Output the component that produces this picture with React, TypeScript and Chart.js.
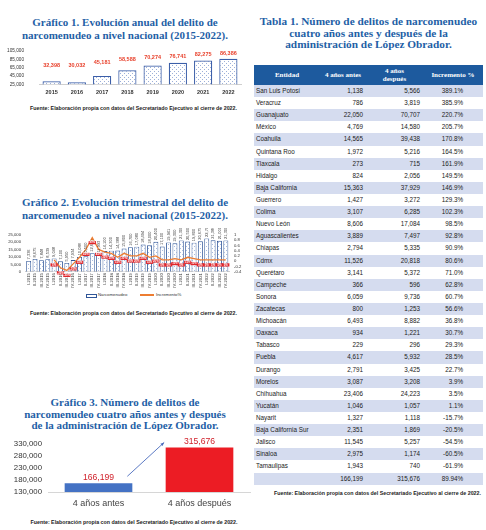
import React, { useEffect, useRef } from "react";
import { Chart, registerables } from "chart.js";

Chart.register(...registerables);

// ---------- DATA ----------
const years = ["2015", "2016", "2017", "2018", "2019", "2020", "2021", "2022"];
const annualCases = [32398, 30032, 45181, 58588, 70274, 76741, 82275, 86386];

const quarterLabels = [
  "I-2015", "II-2015", "III-2015", "IV-2015",
  "I-2016", "II-2016", "III-2016", "IV-2016",
  "I-2017", "II-2017", "III-2017", "IV-2017",
  "I-2018", "II-2018", "III-2018", "IV-2018",
  "I-2019", "II-2019", "III-2019", "IV-2019",
  "I-2020", "II-2020", "III-2020", "IV-2020",
  "I-2021", "II-2021", "III-2021", "IV-2021",
  "I-2022", "II-2022", "III-2022", "IV-2022",
];
const quarterCases = [
  7336, 8675, 7848, 8539,
  9048, 7100, 5950, 7934,
  10088, 10500, 12600, 11993,
  14100, 14300, 14388, 15800,
  16700, 17080, 18494, 18000,
  20400, 17100, 19941, 19300,
  21300, 20500, 19800, 20675,
  22700, 21386, 21000, 21300,
];
const quarterIncrement: (number | null)[] = [
  null, null, null, null,
  0.05, -0.25, -0.35, -0.1,
  0.15, 0.45, 0.9, 0.45,
  0.35, 0.3, 0.15, 0.3,
  0.2, 0.2, 0.3, 0.15,
  0.2, 0.05, 0.05, 0.1,
  0.05, 0.15, 0.1, 0.05,
  0.05, 0.05, 0.05, 0.05,
];

const periodLabels = ["4 años antes", "4 años después"];
const periodCases = [166199, 315676];

const tableStates = [
  "San Luis Potosí", "Veracruz", "Guanajuato", "México", "Coahuila", "Quintana Roo",
  "Tlaxcala", "Hidalgo", "Baja California", "Guerrero", "Colima", "Nuevo León",
  "Aguascalientes", "Chiapas", "Cdmx", "Querétaro", "Campeche", "Sonora", "Zacatecas",
  "Michoacán", "Oaxaca", "Tabasco", "Puebla", "Durango", "Morelos", "Chihuahua",
  "Yucatán", "Nayarit", "Baja California Sur", "Jalisco", "Sinaloa", "Tamaulipas",
];
const tableBefore = [
  1138, 786, 22050, 4769, 14565, 1972, 273, 824, 15363, 1427, 3107, 8606,
  3889, 2794, 11526, 3141, 366, 6059, 800, 6493, 934, 229, 4617, 2791, 3087, 23406,
  1046, 1327, 2351, 11545, 2975, 1943,
];
const tableAfter = [
  5566, 3819, 70707, 14580, 39438, 5216, 715, 2056, 37929, 3272, 6285, 17084,
  7497, 5335, 20818, 5372, 596, 9736, 1253, 8882, 1221, 296, 5932, 3425, 3208, 24223,
  1057, 1118, 1869, 5257, 1174, 740,
];
const tableIncrement = [
  "389.1%", "385.9%", "220.7%", "205.7%", "170.8%", "164.5%", "161.9%", "149.5%",
  "146.9%", "129.3%", "102.3%", "98.5%", "92.8%", "90.9%", "80.6%", "71.0%", "62.8%",
  "60.7%", "56.6%", "36.8%", "30.7%", "29.3%", "28.5%", "22.7%", "3.9%", "3.5%",
  "1.1%", "-15.7%", "-20.5%", "-54.5%", "-60.5%", "-61.9%",
];
const tableTotals = ["", "166,199", "315,676", "89.94%"];
const tableHeaders = ["Entidad", "4 años antes", "4 años después", "Incremento %"];

const SOURCE = "Fuente: Elaboración propia con datos del Secretariado Ejecutivo al cierre de 2022.";

// ---------- HELPERS ----------
const fmt = (v: number) => v.toLocaleString("en-US");
const SANS = '"Liberation Sans", Arial, sans-serif';
const SERIF = '"Liberation Serif", "Times New Roman", serif';
const TITLE_BLUE = "#1f5fa6";

function makePattern(ctx: CanvasRenderingContext2D, bg: string, dot: string) {
  const c = document.createElement("canvas");
  c.width = 4;
  c.height = 4;
  const g = c.getContext("2d")!;
  g.fillStyle = bg;
  g.fillRect(0, 0, 4, 4);
  g.fillStyle = dot;
  g.fillRect(0, 0, 1, 1);
  g.fillRect(2, 2, 1, 1);
  return ctx.createPattern(c, "repeat")!;
}

const fixY = (w: number) => (s: any) => {
  s.width = w;
  s.paddingTop = 0;
  s.paddingBottom = 0;
};

// ---------- CHART 1 ----------
function AnnualChart() {
  const ref = useRef<HTMLCanvasElement>(null);
  useEffect(() => {
    const canvas = ref.current!;
    const ctx = canvas.getContext("2d")!;
    const labelPlugin = {
      id: "annualLabels",
      afterDatasetsDraw(chart: any) {
        const { ctx: c, chartArea } = chart;
        const meta = chart.getDatasetMeta(0);
        c.save();
        c.font = `bold 5.5px ${SANS}`;
        c.fillStyle = "#e8412c";
        c.textAlign = "center";
        c.textBaseline = "middle";
        meta.data.forEach((el: any, i: number) => {
          const v = chart.data.datasets[0].data[i] as number;
          const top = el.y;
          const y = top - 5 - 0.5 * Math.max(0, top - (chartArea.top + 8.3));
          c.fillText(fmt(v), el.x, y);
        });
        c.restore();
      },
    };
    const chart = new Chart(canvas, {
      type: "bar",
      data: {
        labels: years,
        datasets: [
          {
            data: annualCases,
            backgroundColor: makePattern(ctx, "#ffffff", "#9db0d8"),
            borderColor: "#3b5ea8",
            borderWidth: 1.2,
            barPercentage: 0.72,
            categoryPercentage: 1,
          },
        ],
      },
      options: {
        animation: false,
        responsive: false,
        maintainAspectRatio: false,
        layout: { autoPadding: false, padding: { top: 6, right: 7, left: 0, bottom: 0 } },
        plugins: { legend: { display: false }, tooltip: { enabled: false } },
        scales: {
          x: {
            grid: { display: false, drawTicks: false },
            border: { display: true, color: "#cfcfcf" },
            ticks: { font: { size: 5.5, weight: "bold", family: SANS }, color: "#333", padding: 5 },
            afterFit: (s: any) => { s.height = 15.7; },
          },
          y: {
            min: 25000,
            max: 105000,
            grid: { display: false, drawTicks: false },
            border: { display: false },
            ticks: {
              autoSkip: false,
              stepSize: 20000,
              font: { size: 4.7, family: SANS },
              color: "#333",
              padding: 15,
              callback: (v: any) => fmt(Number(v)),
            },
            afterFit: fixY(39),
          },
        },
      } as any,
      plugins: [labelPlugin],
    });
    return () => chart.destroy();
  }, []);
  return <canvas ref={ref} width={248} height={55} style={{ position: "absolute", left: 0, top: 45, width: 248, height: 55 }} />;
}

// ---------- CHART 2 ----------
function QuarterChart() {
  const ref = useRef<HTMLCanvasElement>(null);
  useEffect(() => {
    const canvas = ref.current!;
    const ctx = canvas.getContext("2d")!;
    const labelPlugin = {
      id: "quarterLabels",
      afterDatasetsDraw(chart: any) {
        const c = chart.ctx;
        const bars = chart.getDatasetMeta(0);
        c.save();
        c.font = `4px ${SANS}`;
        c.fillStyle = "#404040";
        c.textAlign = "left";
        c.textBaseline = "middle";
        bars.data.forEach((el: any, i: number) => {
          const v = chart.data.datasets[0].data[i] as number;
          c.save();
          c.translate(el.x, el.y - 1.5);
          c.rotate(-Math.PI / 2);
          c.fillText(fmt(v), 0, 0);
          c.restore();
        });
        const line = chart.getDatasetMeta(1);
        c.font = `bold 2.8px ${SANS}`;
        c.textAlign = "center";
        line.data.forEach((el: any, i: number) => {
          const v = chart.data.datasets[1].data[i];
          if (v === null || v === undefined) return;
          const y = el.y + 5;
          c.fillStyle = "#e0262b";
          c.fillRect(el.x - 3.6, y - 1.6, 7.2, 3.2);
          c.fillStyle = "#ffffff";
          c.fillText(Math.round((v as number) * 100) + "%", el.x, y + 0.1);
        });
        c.restore();
      },
    };
    const chart = new Chart(canvas, {
      type: "bar",
      data: {
        labels: quarterLabels,
        datasets: [
          {
            type: "bar",
            label: "Narcomenudeo",
            data: quarterCases,
            yAxisID: "y",
            backgroundColor: makePattern(ctx, "#ffffff", "#a9bbdf"),
            borderColor: "#2f5597",
            borderWidth: 0.9,
            barPercentage: 0.78,
            categoryPercentage: 1,
            order: 2,
          },
          {
            type: "line",
            label: "Incremento%",
            data: quarterIncrement,
            yAxisID: "y1",
            borderColor: "#ed7d31",
            borderWidth: 1.3,
            pointRadius: 0,
            tension: 0,
            order: 1,
          },
        ],
      },
      options: {
        animation: false,
        responsive: false,
        maintainAspectRatio: false,
        layout: { autoPadding: false, padding: { top: 7, right: 0, left: 0, bottom: 0 } },
        plugins: { legend: { display: false }, tooltip: { enabled: false } },
        scales: {
          x: {
            grid: { display: false, drawTicks: false },
            border: { display: true, color: "#cfcfcf" },
            ticks: {
              autoSkip: false,
              minRotation: 90,
              maxRotation: 90,
              font: { size: 4.2, family: SANS },
              color: "#333",
              padding: 1.5,
            },
            afterFit: (s: any) => { s.height = 20.3; },
          },
          y: {
            min: 0,
            max: 25000,
            grid: { display: false, drawTicks: false },
            border: { display: false },
            ticks: {
              autoSkip: false,
              stepSize: 5000,
              font: { size: 4.2, family: SANS },
              color: "#333",
              padding: 4.5,
              callback: (v: any) => fmt(Number(v)),
            },
            afterFit: fixY(25.5),
          },
          y1: {
            position: "right",
            min: -0.4,
            max: 1,
            grid: { display: false, drawTicks: false },
            border: { display: false },
            ticks: {
              autoSkip: false,
              stepSize: 0.2,
              font: { size: 4.2, family: SANS },
              color: "#333",
              padding: 5,
              callback: (v: any) => String(Number(Number(v).toFixed(1))),
            },
            afterFit: fixY(19),
          },
        },
      } as any,
      plugins: [labelPlugin],
    });
    return () => chart.destroy();
  }, []);
  return <canvas ref={ref} width={248} height={64} style={{ position: "absolute", left: 0, top: 228, width: 248, height: 64 }} />;
}

// ---------- CHART 3 ----------
function PeriodChart() {
  const ref = useRef<HTMLCanvasElement>(null);
  useEffect(() => {
    const canvas = ref.current!;
    const plugin = {
      id: "periodLabels",
      afterDatasetsDraw(chart: any) {
        const c = chart.ctx;
        const meta = chart.getDatasetMeta(0);
        c.save();
        c.font = `8.6px ${SANS}`;
        c.fillStyle = "#d0202a";
        c.textAlign = "center";
        c.textBaseline = "middle";
        meta.data.forEach((el: any, i: number) => {
          const v = chart.data.datasets[0].data[i] as number;
          c.fillText(fmt(v), el.x, el.y - 6);
        });
        // arrow
        const a = meta.data[0];
        const b = meta.data[1];
        const x0 = a.x + a.width / 2 - 5;
        const y0 = a.y - 7;
        const x1 = b.x - b.width / 2 - 1.5;
        const y1 = b.y - 5;
        c.strokeStyle = "#4a6bbd";
        c.fillStyle = "#4a6bbd";
        c.lineWidth = 0.9;
        c.beginPath();
        c.moveTo(x0, y0);
        c.lineTo(x1, y1);
        c.stroke();
        const ang = Math.atan2(y1 - y0, x1 - x0);
        c.beginPath();
        c.moveTo(x1, y1);
        c.lineTo(x1 - 4 * Math.cos(ang - 0.4), y1 - 4 * Math.sin(ang - 0.4));
        c.lineTo(x1 - 4 * Math.cos(ang + 0.4), y1 - 4 * Math.sin(ang + 0.4));
        c.closePath();
        c.fill();
        c.restore();
      },
    };
    const chart = new Chart(canvas, {
      type: "bar",
      data: {
        labels: periodLabels,
        datasets: [
          {
            data: periodCases,
            backgroundColor: ["#4472c4", "#ec1c24"],
            borderWidth: 0,
            barPercentage: 0.67,
            categoryPercentage: 1,
          },
        ],
      },
      options: {
        animation: false,
        responsive: false,
        maintainAspectRatio: false,
        layout: { autoPadding: false, padding: { top: 8, right: 2, left: 0, bottom: 0 } },
        plugins: { legend: { display: false }, tooltip: { enabled: false } },
        scales: {
          x: {
            grid: { display: false, drawTicks: false },
            border: { display: true, color: "#d6d6d6" },
            ticks: { font: { size: 9, family: SANS }, color: "#444", padding: 6 },
            afterFit: (s: any) => { s.height = 20; },
          },
          y: {
            min: 130000,
            max: 330000,
            grid: { display: false, drawTicks: false },
            border: { display: false },
            ticks: {
              autoSkip: false,
              stepSize: 50000,
              font: { size: 7.8, family: SANS },
              color: "#333",
              padding: 6,
              callback: (v: any) => fmt(Number(v)),
            },
            afterFit: fixY(48),
          },
        },
      } as any,
      plugins: [plugin],
    });
    return () => chart.destroy();
  }, []);
  return <canvas ref={ref} width={252} height={76} style={{ position: "absolute", left: 0, top: 436, width: 252, height: 76 }} />;
}

// ---------- LAYOUT PIECES ----------
function Title({ lines, top, left, width, lh, size = 11 }: { lines: string[]; top: number; left: number; width: number; lh: number; size?: number }) {
  return (
    <div
      style={{
        position: "absolute",
        top,
        left,
        width,
        textAlign: "center",
        fontFamily: SERIF,
        fontWeight: "bold",
        fontSize: size,
        lineHeight: lh + "px",
        color: TITLE_BLUE,
        whiteSpace: "nowrap",
      }}
    >
      {lines.map((l, i) => (
        <div key={i}>{l}</div>
      ))}
    </div>
  );
}

function Source({ top, left, width }: { top: number; left: number; width: number }) {
  return (
    <div
      style={{
        position: "absolute",
        top,
        left,
        width,
        textAlign: "center",
        fontFamily: SANS,
        fontWeight: "bold",
        fontSize: 5.3,
        lineHeight: "6px",
        color: "#222",
        whiteSpace: "nowrap",
      }}
    >
      {SOURCE}
    </div>
  );
}

function DataTable() {
  const cellBase: React.CSSProperties = { padding: 0, height: 12.12, lineHeight: "12px", fontSize: 6.3, color: "#222", fontFamily: SANS };
  const widths = [66, 46, 57, 60];
  const rows = tableStates.map((s, i) => [s, fmt(tableBefore[i]), fmt(tableAfter[i]), tableIncrement[i]]);
  rows.push(tableTotals);
  return (
    <table
      style={{
        position: "absolute",
        left: 254,
        top: 65,
        width: 229,
        borderCollapse: "collapse",
        tableLayout: "fixed",
        borderSpacing: 0,
      }}
    >
      <colgroup>
        {widths.map((w, i) => (
          <col key={i} style={{ width: w }} />
        ))}
      </colgroup>
      <thead>
        <tr style={{ background: "#1d5a9e", height: 20 }}>
          {tableHeaders.map((h, i) => (
            <th
              key={i}
              style={{
                padding: 0,
                height: 20,
                color: "#fff",
                fontFamily: SERIF,
                fontWeight: "bold",
                fontSize: 7,
                lineHeight: "8px",
                textAlign: "center",
              }}
            >
              {i === 2 ? (
                <>
                  4 años
                  <br />
                  después
                </>
              ) : (
                h
              )}
            </th>
          ))}
        </tr>
      </thead>
      <tbody>
        {rows.map((r, i) => (
          <tr key={i} style={{ background: i % 2 === 0 ? "#d5dcef" : "#ffffff" }}>
            <td style={{ ...cellBase, textAlign: "left", paddingLeft: 2, whiteSpace: "nowrap" }}>{r[0]}</td>
            <td style={{ ...cellBase, textAlign: "right", paddingRight: 3 }}>{r[1]}</td>
            <td style={{ ...cellBase, textAlign: "right", paddingRight: 3 }}>{r[2]}</td>
            <td style={{ ...cellBase, textAlign: "right", paddingRight: 20 }}>{r[3]}</td>
          </tr>
        ))}
      </tbody>
    </table>
  );
}

function QuarterLegend() {
  return (
    <div style={{ position: "absolute", top: 292, left: 0, width: 248, height: 6, fontFamily: SANS, fontSize: 4.3, color: "#333" }}>
      <span style={{ position: "absolute", left: 86, top: 1.5, width: 9, height: 2, border: "1px solid #2f5597", background: "#fff" }} />
      <span style={{ position: "absolute", left: 98, top: 0, lineHeight: "6px", whiteSpace: "nowrap" }}>Narcomenudeo</span>
      <span style={{ position: "absolute", left: 140, top: 2.3, width: 14, height: 1.4, background: "#ed7d31" }} />
      <span style={{ position: "absolute", left: 156, top: 0, lineHeight: "6px", whiteSpace: "nowrap" }}>Incremento%</span>
    </div>
  );
}

export default function App() {
  return (
    <div style={{ position: "absolute", left: 0, top: 0, width: 486, height: 530, background: "#fff", overflow: "hidden" }}>
      <Title lines={["Gráfico 1. Evolución anual del delito de", "narcomenudeo a nivel nacional (2015-2022)."]} top={16} left={0} width={250} lh={12.5} />
      <AnnualChart />
      <Source top={105.3} left={29} width={209} />

      <Title lines={["Gráfico 2. Evolución trimestral del delito de", "narcomenudeo a nivel nacional (2015-2022)."]} top={195.5} left={0} width={250} lh={13} />
      <QuarterChart />
      <QuarterLegend />
      <Source top={310} left={29} width={209} />

      <Title
        lines={["Gráfico 3. Número de delitos de", "narcomenudeo cuatro años antes y después", "de la administración de López Obrador."]}
        top={397.2}
        left={0}
        width={250}
        lh={11.6}
      />
      <PeriodChart />
      <Source top={518.7} left={30} width={208} />

      <Title
        lines={["Tabla 1. Número de delitos de narcomenudeo", "cuatro años antes y después de la", "administración de López Obrador."]}
        top={15.9}
        left={254}
        width={229}
        lh={11.7}
        size={11.3}
      />
      <DataTable />
      <Source top={490} left={273} width={209} />
    </div>
  );
}
